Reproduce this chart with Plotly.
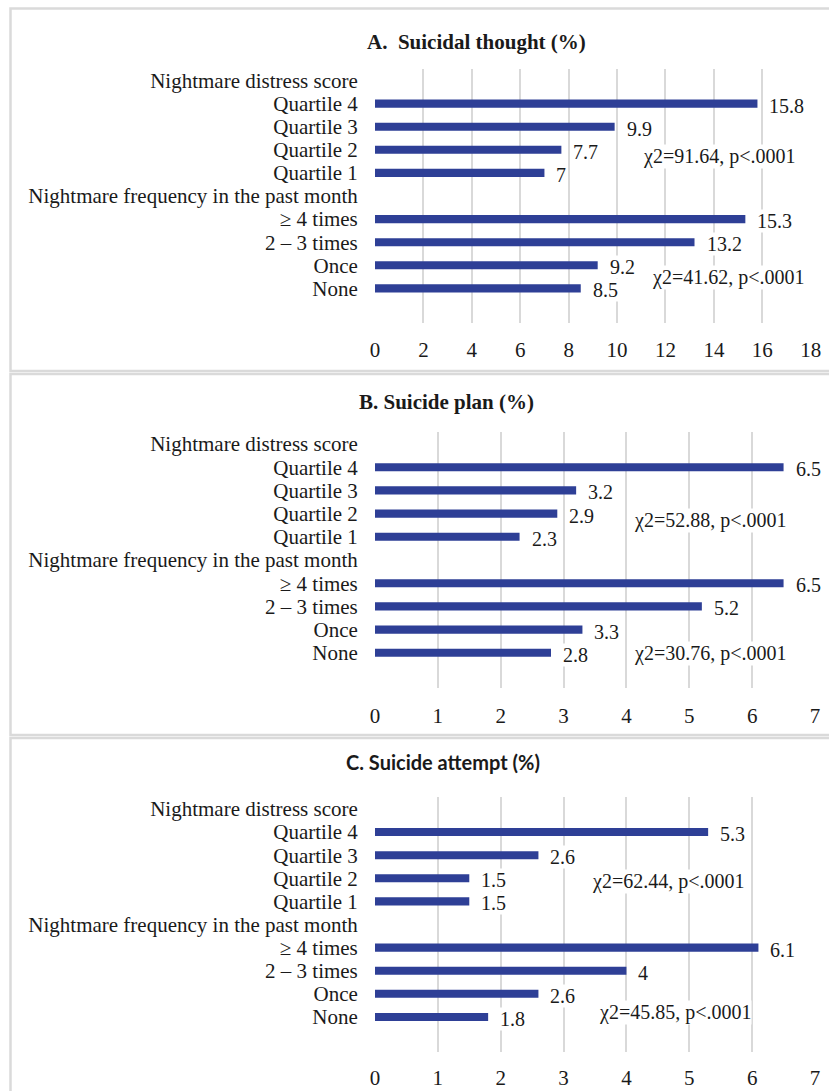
import plotly.graph_objects as go

W, H = 829, 1091

categories = ["Nightmare distress score", "Quartile 4", "Quartile 3", "Quartile 2", "Quartile 1",
              "Nightmare frequency in the past month", "≥ 4 times", "2 – 3 times", "Once", "None", ""]

thought_vals = [None, 15.8, 9.9, 7.7, 7, None, 15.3, 13.2, 9.2, 8.5, None]
plan_vals = [None, 6.5, 3.2, 2.9, 2.3, None, 6.5, 5.2, 3.3, 2.8, None]
attempt_vals = [None, 5.3, 2.6, 1.5, 1.5, None, 6.1, 4, 2.6, 1.8, None]

titles = ["A.\u00a0 Suicidal thought (%)", "B. Suicide plan (%)", "C. Suicide attempt (%)"]
chi_texts = [["χ2=91.64, p<.0001", "χ2=41.62, p<.0001"],
             ["χ2=52.88, p<.0001", "χ2=30.76, p<.0001"],
             ["χ2=62.44, p<.0001", "χ2=45.85, p<.0001"]]
x_max = [18, 7, 7]
x_dtick = [2, 1, 1]

BAR = "#2E3F96"
GRID = "#D9D9D9"
SERIF = "Liberation Serif, Times New Roman, serif"
TXT = "#1a1a1a"

# layout geometry (pixels)
panels = [
    dict(box=(10.5, 8.5, 832, 371), x0=375, x1=810.7, top=69, bot=323, title_y=42, title_x=476,
         chi_pos=[(14.2, 3.3), (14.6, 8.55)], tick_gap=8),
    dict(box=(10.5, 374, 832, 735), x0=375, x1=815, top=432.4, bot=687.6, title_y=402, title_x=447,
         chi_pos=[(5.33, 3.28), (5.33, 9.05)], tick_gap=9),
    dict(box=(10.5, 738, 832, 1095), x0=375, x1=815, top=797.4, bot=1051.6, title_y=762, title_x=443,
         chi_pos=[(4.66, 3.16), (4.77, 8.79)], tick_gap=7),
]

def px(x):
    return x / W

def py(y):
    return 1 - y / H

fig = go.Figure()
vals_all = [thought_vals, plan_vals, attempt_vals]
idx = list(range(len(categories)))
annotations = []
shapes = []

for i, (p, vals) in enumerate(zip(panels, vals_all)):
    n = "" if i == 0 else str(i + 1)
    xa, ya = "x" + n, "y" + n
    fig.add_trace(go.Bar(
        x=vals, y=idx, orientation="h", width=0.35,
        marker=dict(color=BAR, line=dict(width=0)),
        xaxis=xa, yaxis=ya, showlegend=False, hoverinfo="x+y"))
    fig.layout["xaxis" + n] = dict(
        domain=[px(p["x0"]), px(p["x1"])], range=[0, x_max[i]], dtick=x_dtick[i], tick0=0,
        anchor=ya, showgrid=True, gridcolor=GRID, gridwidth=1.5, zeroline=False, showline=False,
        ticks="outside", ticklen=p["tick_gap"], tickcolor="rgba(0,0,0,0)", automargin=False,
        tickfont=dict(family=SERIF, size=21, color=TXT), fixedrange=True)
    fig.layout["yaxis" + n] = dict(
        domain=[py(p["bot"]), py(p["top"])], range=[len(categories) - 0.5, -0.5],
        tickmode="array", tickvals=idx, ticktext=categories, anchor=xa,
        showgrid=False, zeroline=False, showline=False, automargin=False,
        ticks="outside", ticklen=12, tickcolor="rgba(0,0,0,0)",
        tickfont=dict(family=SERIF, size=21, color=TXT), fixedrange=True)
    # data labels
    for j, v in enumerate(vals):
        if v is None:
            continue
        annotations.append(dict(
            x=v, y=j, xref=xa, yref=ya, text=f"{v:g}", showarrow=False,
            xanchor="left", yanchor="middle", xshift=11, yshift=-2,
            font=dict(family=SERIF, size=20, color=TXT), bgcolor="white", borderpad=0))
    # chi-square texts
    for (cx, cy), t in zip(p["chi_pos"], chi_texts[i]):
        annotations.append(dict(
            x=cx, y=cy, xref=xa, yref=ya, text=t, showarrow=False,
            xanchor="center", yanchor="middle",
            font=dict(family=SERIF, size=20, color=TXT), bgcolor="white", borderpad=0))
    # title
    tfont = dict(family=SERIF, size=21, color=TXT, weight="bold")
    if i == 2:
        tfont = dict(family="Lato, Carlito, sans-serif", size=20, color=TXT, weight="bold")
    annotations.append(dict(
        x=px(p["title_x"]), y=py(p["title_y"]), xref="paper", yref="paper",
        text="<b>" + titles[i] + "</b>", showarrow=False, xanchor="center", yanchor="middle",
        font=tfont))
    # panel border
    bx0, by0, bx1, by1 = p["box"]
    shapes.append(dict(type="rect", xref="paper", yref="paper",
                       x0=px(bx0), x1=px(bx1), y0=py(by1), y1=py(by0),
                       line=dict(color="#DADADA", width=2.5), fillcolor="rgba(0,0,0,0)", layer="below"))

fig.update_layout(
    width=W, height=H, autosize=False, margin=dict(l=0, r=0, t=0, b=0, autoexpand=False),
    paper_bgcolor="white", plot_bgcolor="white",
    annotations=annotations, shapes=shapes, bargap=0.6,
)

fig.write_html("out.html",
               config={"responsive": False, "displayModeBar": False},
               post_script="document.body.style.margin='0';document.body.style.overflow='hidden';")
